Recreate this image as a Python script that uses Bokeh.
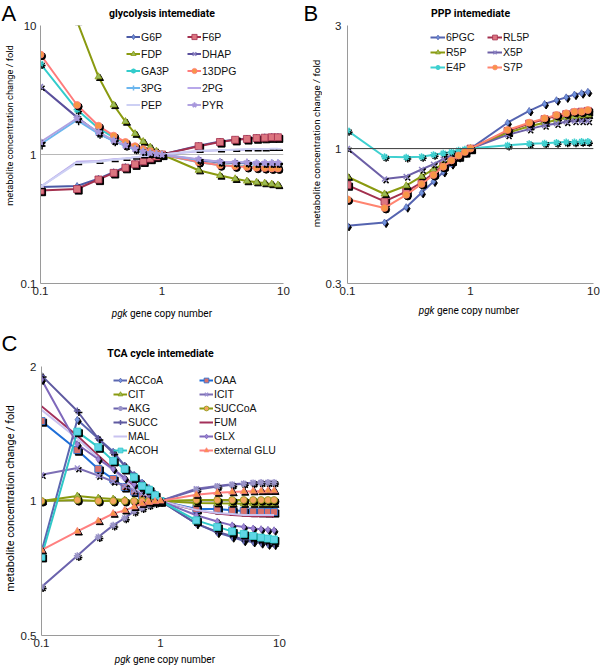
import numpy as np
from bokeh.plotting import figure
from bokeh.models import (Legend, LegendItem, Label, FixedTicker,
                          CustomJSTickFormatter, Span, Range1d, Title)
from bokeh.layouts import column, row
from bokeh.embed import file_html
from bokeh.resources import INLINE

# ---------------- data ----------------
copy_number = [0.1, 0.2, 0.3, 0.4, 0.5, 0.6, 0.7, 0.8, 0.9, 1, 2, 3, 4, 5, 6, 7, 8, 9]

# Panel A: glycolysis intermediates
G6P = [0.56, 0.57, 0.65, 0.73, 0.80, 0.85, 0.89, 0.93, 0.97, 1.0, 1.17, 1.26, 1.30, 1.33, 1.35, 1.36, 1.37, 1.37]
F6P = [0.525, 0.54, 0.64, 0.72, 0.79, 0.84, 0.885, 0.93, 0.965, 1.0, 1.16, 1.25, 1.30, 1.32, 1.34, 1.35, 1.36, 1.36]
FDP = [40.0, 10.8, 4.0, 2.42, 1.80, 1.45, 1.26, 1.14, 1.06, 1.0, 0.755, 0.687, 0.648, 0.622, 0.61, 0.60, 0.59, 0.58]
DHAP = [3.36, 1.94, 1.46, 1.28, 1.17, 1.10, 1.05, 1.02, 1.01, 1.0, 0.90, 0.87, 0.86, 0.855, 0.85, 0.85, 0.85, 0.85]
GA3P = [5.05, 2.22, 1.60, 1.36, 1.23, 1.14, 1.08, 1.04, 1.02, 1.0, 0.87, 0.83, 0.815, 0.81, 0.805, 0.80, 0.80, 0.80]
DPG13 = [5.95, 2.42, 1.67, 1.40, 1.25, 1.16, 1.10, 1.06, 1.02, 1.0, 0.875, 0.826, 0.81, 0.80, 0.79, 0.785, 0.78, 0.78]
PG3 = [1.2, 1.85, 1.45, 1.27, 1.17, 1.10, 1.05, 1.02, 1.01, 1.0, 0.91, 0.88, 0.87, 0.865, 0.86, 0.86, 0.86, 0.86]
PG2 = [0.56, 0.88, 0.89, 0.92, 0.93, 0.95, 0.97, 0.98, 0.99, 1.0, 1.06, 1.08, 1.09, 1.09, 1.10, 1.10, 1.10, 1.10]
PEP = [0.56, 0.86, 0.88, 0.91, 0.93, 0.95, 0.97, 0.98, 0.99, 1.0, 1.07, 1.08, 1.09, 1.10, 1.10, 1.10, 1.11, 1.11]
PYR = [1.25, 1.91, 1.49, 1.29, 1.18, 1.11, 1.06, 1.03, 1.01, 1.0, 0.92, 0.88, 0.87, 0.87, 0.86, 0.86, 0.86, 0.86]

# Panel B: PPP intermediates
PGC6 = [0.502, 0.517, 0.593, 0.674, 0.746, 0.812, 0.871, 0.927, 0.971, 1.0, 1.26, 1.40, 1.49, 1.54, 1.58, 1.62, 1.64, 1.66]
RL5P = [0.722, 0.624, 0.681, 0.739, 0.803, 0.857, 0.90, 0.935, 0.97, 1.0, 1.17, 1.25, 1.30, 1.34, 1.36, 1.38, 1.39, 1.40]
R5P = [0.778, 0.667, 0.718, 0.78, 0.83, 0.87, 0.91, 0.945, 0.975, 1.0, 1.15, 1.22, 1.26, 1.29, 1.32, 1.33, 1.34, 1.35]
X5P = [1.0, 0.762, 0.78, 0.83, 0.87, 0.91, 0.94, 0.965, 0.985, 1.0, 1.13, 1.19, 1.23, 1.25, 1.27, 1.28, 1.28, 1.28]
E4P = [1.175, 0.93, 0.925, 0.93, 0.947, 0.96, 0.97, 0.985, 0.995, 1.0, 1.03, 1.045, 1.05, 1.055, 1.06, 1.06, 1.065, 1.065]
S7P = [0.636, 0.589, 0.662, 0.729, 0.79, 0.85, 0.90, 0.94, 0.97, 1.0, 1.18, 1.26, 1.31, 1.35, 1.37, 1.39, 1.39, 1.41]

# Panel C: TCA cycle intermediates
ACCoA = [0.77, 1.52, 1.38, 1.29, 1.20, 1.145, 1.10, 1.07, 1.04, 1.0, 0.89, 0.85, 0.83, 0.815, 0.81, 0.805, 0.80, 0.80]
OAA = [1.51, 1.30, 1.18, 1.12, 1.075, 1.05, 1.03, 1.02, 1.01, 1.0, 0.96, 0.96, 0.953, 0.95, 0.947, 0.946, 0.945, 0.945]
CIT = [1.0, 1.026, 1.015, 1.01, 1.005, 1.0, 1.0, 1.0, 1.0, 1.0, 0.99, 0.988, 0.987, 0.986, 0.986, 0.986, 0.986, 0.986]
ICIT = [1.145, 1.185, 1.14, 1.106, 1.08, 1.056, 1.04, 1.025, 1.012, 1.0, 1.065, 1.08, 1.09, 1.095, 1.10, 1.10, 1.10, 1.10]
AKG = [0.642, 0.754, 0.831, 0.882, 0.916, 0.948, 0.965, 0.98, 0.99, 1.0, 1.06, 1.078, 1.087, 1.093, 1.097, 1.10, 1.10, 1.10]
SUCCoA = [1.0, 1.005, 1.0, 1.0, 1.0, 1.0, 1.0, 1.0, 1.0, 1.0, 1.005, 1.005, 1.005, 1.005, 1.005, 1.005, 1.005, 1.005]
SUCC = [1.91, 1.59, 1.38, 1.28, 1.20, 1.14, 1.09, 1.06, 1.03, 1.0, 0.89, 0.853, 0.835, 0.82, 0.817, 0.81, 0.805, 0.80]
FUM = [1.63, 1.40, 1.265, 1.18, 1.12, 1.08, 1.05, 1.03, 1.01, 1.0, 0.953, 0.937, 0.93, 0.927, 0.925, 0.924, 0.924, 0.923]
MAL = [1.60, 1.38, 1.25, 1.17, 1.11, 1.07, 1.045, 1.025, 1.01, 1.0, 0.955, 0.94, 0.935, 0.93, 0.93, 0.93, 0.93, 0.93]
GLX = [1.87, 1.34, 1.24, 1.18, 1.125, 1.09, 1.06, 1.035, 1.015, 1.0, 0.929, 0.90, 0.882, 0.875, 0.868, 0.865, 0.862, 0.86]
ACOH = [0.75, 1.43, 1.32, 1.23, 1.18, 1.13, 1.08, 1.06, 1.03, 1.0, 0.905, 0.875, 0.855, 0.844, 0.835, 0.828, 0.824, 0.82]
extGLU = [0.776, 0.855, 0.902, 0.937, 0.953, 0.97, 0.986, 0.993, 0.997, 1.0, 1.033, 1.044, 1.047, 1.05, 1.052, 1.053, 1.054, 1.054]

x_ticks = [0.1, 1, 10]
yticks_A = [0.1, 1, 10]
yticks_B = [0.3, 1, 3]
yticks_C = [0.5, 1, 2]

# name, values, line colour, marker, marker colour
series_A = [
    ("G6P", G6P, "#4b5aa5", "diamond", "#6f93dc"),
    ("F6P", F6P, "#a3304e", "square", "#dc7580"),
    ("FDP", FDP, "#8a9a10", "triangle", "#9bbb59"),
    ("DHAP", DHAP, "#5a4f9c", "x", "#8a80c0"),
    ("GA3P", GA3P, "#33cccc", "asterisk", "#33cccc"),
    ("13DPG", DPG13, "#ff7b7b", "circle", "#f79646"),
    ("3PG", PG3, "#6cb6ee", "cross", "#6cb6ee"),
    ("2PG", PG2, "#b8a8ea", None, None),
    ("PEP", PEP, "#cdd0f4", "dash", "#cdd0f4"),
    ("PYR", PYR, "#b0a2e0", "star", "#a898dc"),
]
series_B = [
    ("6PGC", PGC6, "#5564b0", "diamond", "#6f93dc"),
    ("RL5P", RL5P, "#a3304e", "square", "#dc7580"),
    ("R5P", R5P, "#8a9a10", "triangle", "#9bbb59"),
    ("X5P", X5P, "#6c5fa6", "x", "#8a80c0"),
    ("E4P", E4P, "#3fd0d0", "asterisk", "#3fd0d0"),
    ("S7P", S7P, "#ff8470", "circle", "#f79646"),
]
series_C = [
    ("ACCoA", ACCoA, "#5b67b0", "diamond", "#7b9be0"),
    ("OAA", OAA, "#1f6fd8", "square", "#d9716b"),
    ("CIT", CIT, "#8a9a10", "triangle", "#9bbb59"),
    ("ICIT", ICIT, "#7d6fb5", "x", "#9c90d0"),
    ("AKG", AKG, "#6b63ad", "asterisk", "#9a94c8"),
    ("SUCCoA", SUCCoA, "#8a9a10", "circle", "#f4a460"),
    ("SUCC", SUCC, "#5f5aa0", "cross", "#5f5aa0"),
    ("FUM", FUM, "#a3305a", None, None),
    ("MAL", MAL, "#c9c3f0", None, None),
    ("GLX", GLX, "#7f68bb", "diamond", "#9d85d6"),
    ("ACOH", ACOH, "#30c8c8", "square", "#5fd6e6"),
    ("external GLU", extGLU, "#ff8080", "triangle", "#f79646"),
]

LINE_MARKERS = {"x", "asterisk", "cross", "dash", "star"}
TXT_FONT = "Roboto"
TICK_FONT = "Liberation Sans"
YLABEL = "metabolite concentration change / fold"


def strip(w, h, title=None, title_offset=0):
    kw = {}
    if title is None:
        kw["title_location"] = None
    else:
        kw["title_location"] = "below"
        kw["title"] = Title(text=title, align="center", offset=title_offset,
                            standoff=0, text_font=TXT_FONT, text_font_size="10.5px",
                            text_font_style="bold", text_color="#000000")
    s = figure(width=w, height=h, x_range=Range1d(0, 1), y_range=Range1d(0, 1),
               x_axis_location=None, y_axis_location=None,
               toolbar_location=None, output_backend="svg",
               min_border=0, min_border_left=0, min_border_right=0,
               min_border_top=0, min_border_bottom=0, **kw)
    s.outline_line_color = None
    s.background_fill_color = "white"
    s.border_fill_color = "white"
    s.grid.visible = False
    return s


def txt(s, x, y, text, size, style="normal", align="left", baseline="middle",
        angle=0.0, font=TXT_FONT):
    # x from the strip's frame left, y from its bottom (pixels)
    s.add_layout(Label(x=x, y=y, x_units="screen", y_units="screen", text=text,
                       text_font=font, text_font_size=size, text_font_style=style,
                       text_align=align, text_baseline=baseline, angle=angle,
                       text_color="#000000"))


def main_plot(W, H, L, R, T, B, yrange, yticks, series, leg, y_standoff):
    fw, fh = W - L - R, H - T - B
    p = figure(width=W, height=H, x_axis_type="log", y_axis_type="log",
               x_range=(0.1, 10), y_range=yrange, output_backend="svg",
               toolbar_location=None, title_location=None,
               min_border_left=L, min_border_right=R,
               min_border_top=T, min_border_bottom=B)
    p.outline_line_color = None
    p.background_fill_color = "white"
    p.border_fill_color = "white"
    for ax, ticks in ((p.xaxis[0], x_ticks), (p.yaxis[0], yticks)):
        ax.ticker = FixedTicker(ticks=ticks, minor_ticks=[])
        ax.formatter = CustomJSTickFormatter(code="return String(tick);")
        ax.major_tick_line_color = None
        ax.minor_tick_line_color = None
        ax.major_tick_out = 0
        ax.major_tick_in = 0
        ax.minor_tick_out = 0
        ax.minor_tick_in = 0
        ax.axis_line_color = "#9a9a9a"
        ax.major_label_text_font = TICK_FONT
        ax.major_label_text_font_size = "11.5px"
        ax.major_label_text_color = "#222222"
    p.xaxis[0].major_label_standoff = 3
    p.yaxis[0].major_label_standoff = y_standoff
    p.xgrid.grid_line_color = None
    p.ygrid.grid_line_color = "#b8b8b8"

    ydec = np.log10(yrange[1] / yrange[0])
    fx = 10 ** (1.6 / (fw / 2.0))
    fy = 10 ** (-1.6 / (fh / ydec))
    xs = np.array(copy_number, dtype=float)
    items = []
    for name, vals, lc, mk, mc in series:
        ys = np.array(vals, dtype=float)
        rs = [p.line(xs, ys, line_color=lc, line_width=2)]
        if mk is not None:
            line_mk = mk in LINE_MARKERS
            p.scatter(xs * fx, ys * fy, marker=mk, size=7, fill_color="black",
                      line_color="black", line_width=1.5 if line_mk else 1)
            rs.append(p.scatter(xs, ys, marker=mk, size=7, fill_color=mc,
                                line_color=mc if line_mk else lc,
                                line_width=1.5 if line_mk else 0.8))
        items.append(LegendItem(label=name, renderers=rs))
    lx, ltop, gw, gh, lw, sp, nrows = leg
    lheight = nrows * gh + (nrows - 1) * sp
    legend = Legend(items=items, location=(lx, fh - ltop - lheight),
                    orientation="horizontal", ncols=2,
                    background_fill_alpha=0, border_line_alpha=0,
                    label_text_font=TICK_FONT, label_text_font_size="10.5px",
                    label_text_color="#111111", glyph_width=gw, glyph_height=gh,
                    label_height=gh, label_width=lw, label_standoff=1,
                    spacing=sp, padding=0, margin=0)
    p.add_layout(legend)
    return p


def panel(W, Wl, Hl, Ht, Hm, Hf, L, R, T, B, yrange, yticks, series, leg, y_standoff,
          letter, letter_x, letter_y, title, title_offset,
          ylab_x, ylab_y, ylab_size, xl_split, xl_y, xl_size):
    Htot = Ht + Hm + Hf
    Wr = W - Wl
    # left column: panel letter + rotated y-axis title
    let = strip(Wl, Hl)
    txt(let, letter_x, letter_y, letter, "22px", font="Liberation Sans")
    ylab = strip(Wl, Htot - Hl)
    txt(ylab, ylab_x, ylab_y, YLABEL, ylab_size, align="center", angle=np.pi / 2)
    # right column: title, plot, x-axis title (their frames line up with the plot's frame)
    head = strip(Wr, Ht, title=title, title_offset=title_offset)
    main = main_plot(Wr, Hm, L, R, T, B, yrange, yticks, series, leg, y_standoff)
    foot = strip(Wr, Hf)
    txt(foot, xl_split - L, xl_y, "pgk", xl_size, style="italic", align="right")
    txt(foot, xl_split - L + 2.5, xl_y, "gene copy number", xl_size, align="left")
    return column(let, ylab), column(head, main, foot), main


A_left, A_right, main_A = panel(300, 17, 26, 19, 283, 28, 19, 17, 6, 19, (0.1, 10), yticks_A,
                                series_A, (86, 5, 14, 13, 42, 4, 5), 4,
                                "A", 1, 13, "glycolysis intemediate", -8,
                                8.5, 205, "9.3px", 106, 17, "10px")
B_left, B_right, main_B = panel(300, 22, 26, 19, 283, 28, 21, 7, 6, 19, (0.3, 3), yticks_B,
                                series_B, (83, 6, 15, 12, 38, 3, 3), 6,
                                "B", 3, 13, "PPP intemediate", -9,
                                16, 187, "9.7px", 108, 20, "10px")
C_left, C_right, main_C = panel(300, 17, 30, 29, 293, 13, 21, 21, 7, 17, (0.5, 2), yticks_C,
                                series_C, (72, 8, 14, 12, 69, 2, 6), 5,
                                "C", 1, 17, "TCA cycle intemediate", -3,
                                10, 167, "10.8px", 110, 6, "10px")

# dark reference line at 1 in panel B
main_B.add_layout(Span(location=1, dimension="width", line_color="#404040", line_width=1))

layout = column(row(A_left, A_right, B_left, B_right), row(C_left, C_right))
open("out.html", "w").write(file_html(layout, INLINE))
